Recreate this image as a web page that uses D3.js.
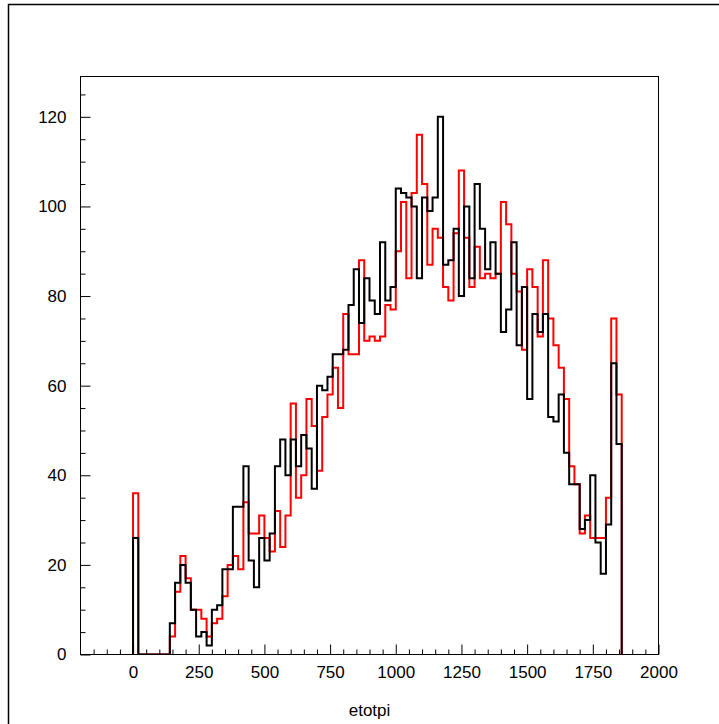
<!DOCTYPE html>
<html>
<head>
<meta charset="utf-8">
<script src="https://cdn.jsdelivr.net/npm/d3@7"></script>
<style>
  html, body { margin: 0; padding: 0; background: #fff; }
  svg { display: block; }
  text { font-family: "Liberation Sans", Arial, Helvetica, sans-serif; fill: #000; }
</style>
</head>
<body>
<svg id="chart" width="719" height="724"></svg>
<script>
// Histogram binning: 20-unit bins starting at 0
const binStart = 0;
const binWidth = 20;

// Bin contents, black histogram
const blackCounts = [
  26, 0, 0, 0, 0, 0, 0, 7, 16, 20,
  16, 10, 4, 5, 2, 10, 11, 19, 19, 33,
  33, 42, 21, 15, 26, 21, 27, 42, 48, 40,
  48, 42, 49, 46, 37, 60, 59, 62, 67, 67,
  68, 78, 86, 74, 84, 79, 76, 92, 79, 82,
  104, 103, 102, 100, 84, 102, 99, 102, 120, 87,
  88, 95, 80, 100, 84, 105, 95, 86, 92, 85,
  72, 77, 92, 69, 82, 57, 76, 72, 76, 53,
  52, 58, 45, 38, 38, 28, 30, 40, 25, 18,
  29, 65, 47
];

// Bin contents, red histogram
const redCounts = [
  36, 0, 0, 0, 0, 0, 0, 4, 14, 22,
  17, 10, 10, 8, 4, 7, 8, 13, 20, 22,
  19, 34, 27, 27, 31, 26, 23, 32, 24, 31,
  56, 35, 40, 57, 51, 41, 53, 58, 64, 55,
  76, 67, 67, 88, 70, 71, 70, 71, 78, 77,
  90, 101, 84, 103, 116, 105, 87, 95, 93, 82,
  79, 94, 108, 93, 82, 91, 84, 85, 84, 85,
  101, 96, 85, 81, 68, 86, 82, 71, 88, 75,
  69, 64, 57, 42, 38, 27, 31, 26, 26, 26,
  35, 75, 58
];

// Axis ranges and tick values
const xDomain = [-200, 2000];
const yDomain = [0, 129];
const xMajorTicks = [0, 250, 500, 750, 1000, 1250, 1500, 1750, 2000];
const yMajorTicks = [0, 20, 40, 60, 80, 100, 120];
const xMinorStep = 50;
const yMinorStep = 5;
const xTitle = "etotpi";

const svg = d3.select("#chart");

// Pad border
svg.append("rect")
  .attr("x", 8.5).attr("y", 4.5)
  .attr("width", 800).attr("height", 800)
  .attr("fill", "none").attr("stroke", "#000").attr("stroke-width", 1.5);

const frame = { left: 80.5, right: 658.5, top: 76.5, bottom: 654.5 };

const x = d3.scaleLinear().domain(xDomain).range([frame.left, frame.right]);
const y = d3.scaleLinear().domain(yDomain).range([frame.bottom, frame.top]);

// Histograms are clipped to the frame interior
svg.append("defs").append("clipPath").attr("id", "frameClip")
  .append("rect")
  .attr("x", frame.left).attr("y", frame.top - 2)
  .attr("width", frame.right - frame.left).attr("height", frame.bottom - frame.top + 2);

// Step outline for one histogram
function stepPoints(counts) {
  const pts = [[binStart, 0]];
  counts.forEach((c, i) => {
    const lo = binStart + i * binWidth;
    pts.push([lo, c], [lo + binWidth, c]);
  });
  pts.push([binStart + counts.length * binWidth, 0]);
  return pts;
}

const line = d3.line().x(d => x(d[0])).y(d => y(d[1]));
const plot = svg.append("g").attr("clip-path", "url(#frameClip)");

plot.append("path")
  .attr("d", line(stepPoints(redCounts)))
  .attr("fill", "none").attr("stroke", "#ff0000").attr("stroke-width", 2)
  .attr("stroke-linejoin", "miter");

plot.append("path")
  .attr("d", line(stepPoints(blackCounts)))
  .attr("fill", "none").attr("stroke", "#000000").attr("stroke-width", 2)
  .attr("stroke-linejoin", "miter");

// Frame
svg.append("rect")
  .attr("x", frame.left).attr("y", frame.top)
  .attr("width", frame.right - frame.left).attr("height", frame.bottom - frame.top)
  .attr("fill", "none").attr("stroke", "#000").attr("stroke-width", 1);

// X axis: minor ticks, then major ticks with labels
const xMinor = d3.range(xDomain[0], xDomain[1] + 1, xMinorStep).filter(v => !xMajorTicks.includes(v) && v > xDomain[0]);
const xAxisMinor = d3.axisBottom(x).tickValues(xMinor).tickSize(-5).tickSizeOuter(0).tickFormat("");
const xAxisMajor = d3.axisBottom(x).tickValues(xMajorTicks).tickSize(-10).tickSizeOuter(0).tickPadding(11.5).tickFormat(d3.format("d"));

const gxMinor = svg.append("g").attr("transform", `translate(0,${frame.bottom})`).call(xAxisMinor);
const gxMajor = svg.append("g").attr("transform", `translate(0,${frame.bottom})`).call(xAxisMajor);
[gxMinor, gxMajor].forEach(g => {
  g.select(".domain").remove();
  g.selectAll("line").attr("stroke", "#000");
});
gxMajor.selectAll("text").style("font-size", "17px").attr("fill", "#000");

// Y axis
const yMinor = d3.range(yDomain[0], yDomain[1], yMinorStep).filter(v => !yMajorTicks.includes(v));
const yAxisMinor = d3.axisLeft(y).tickValues(yMinor).tickSize(-5).tickSizeOuter(0).tickFormat("");
const yAxisMajor = d3.axisLeft(y).tickValues(yMajorTicks).tickSize(-10).tickSizeOuter(0).tickPadding(14).tickFormat(d3.format("d"));

const gyMinor = svg.append("g").attr("transform", `translate(${frame.left},0)`).call(yAxisMinor);
const gyMajor = svg.append("g").attr("transform", `translate(${frame.left},0)`).call(yAxisMajor);
[gyMinor, gyMajor].forEach(g => {
  g.select(".domain").remove();
  g.selectAll("line").attr("stroke", "#000");
});
gyMajor.selectAll("text").style("font-size", "17px").attr("fill", "#000");

// X axis title
svg.append("text")
  .attr("x", (frame.left + frame.right) / 2)
  .attr("y", 716)
  .attr("text-anchor", "middle")
  .style("font-size", "17px")
  .text(xTitle);
</script>
</body>
</html>
